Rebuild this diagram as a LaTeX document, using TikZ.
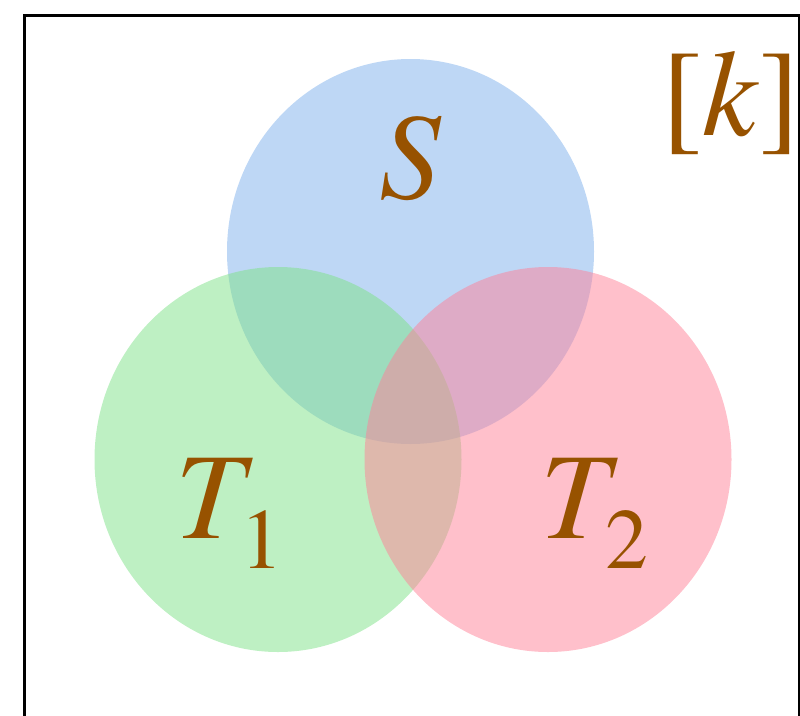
\documentclass[tikz,border=0pt]{standalone}
\usepackage{fontspec}
\setmainfont{texgyretermes}[Extension=.otf, UprightFont=*-regular, ItalicFont=*-italic]
\usepackage{xcolor}
\definecolor{setBlue}{RGB}{125, 175, 235}
\definecolor{setGreen}{RGB}{125, 225, 135}
\definecolor{setPink}{RGB}{255, 129, 151}
\definecolor{labBrown}{RGB}{151, 82, 0}
\usetikzlibrary{shapes.geometric, positioning}
\newcommand{\setsub}[2]{\textit{#1}\kern-0.13cm\raisebox{-0.3cm}{\fontsize{24.4}{28}\selectfont #2}}

\begin{document}
\begin{tikzpicture}[
  setdisc/.style={ellipse, draw=none, fill opacity=0.5, inner sep=0pt,
                  minimum width=3.67cm, minimum height=3.85cm},
  setlab/.style={text=labBrown, inner sep=0pt, font=\fontsize{35}{40}\selectfont},
]
  \useasboundingbox (0,0) rectangle (8,7.15);
  \clip (0,0) rectangle (8,7.15);

  % universe
  \node[draw, line width=0.9pt, inner sep=0pt, minimum width=7.75cm,
        minimum height=7.6cm, anchor=north west] (univ) at (0.23,7.015) {};

  % the three sets
  \node[setdisc, fill=setBlue]  (S)  at (4.105,4.635) {};
  \node[setdisc, fill=setGreen] (T1) at (2.78,2.555) {};
  \node[setdisc, fill=setPink]  (T2) at (5.48,2.555) {};

  \node[setlab, anchor=base] (labS) at (4.11,5.17) {\textit{S}};
  \node[setlab, anchor=base west] (labT1) at (1.75,1.77) {\setsub{T}{1}};
  \node[setlab, anchor=base west] (labT2) at (5.40,1.77) {\setsub{T}{2}};
  \node[setlab, anchor=base east] (labK) at (8.01,5.80) {[\textit{k}]};
\end{tikzpicture}
\end{document}
